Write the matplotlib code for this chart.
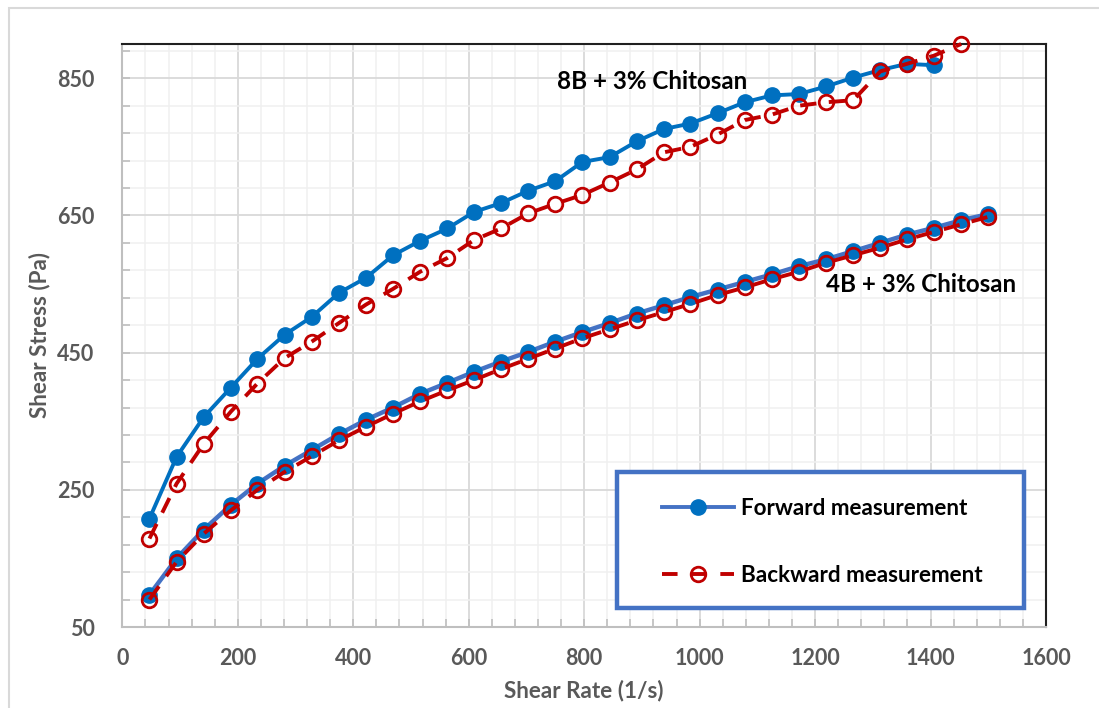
import matplotlib
matplotlib.use("Agg")
import matplotlib.pyplot as plt
from matplotlib.lines import Line2D
from matplotlib.patches import Rectangle
from matplotlib.ticker import MultipleLocator

plt.rcParams['font.family'] = ['Lato', 'DejaVu Sans']
plt.rcParams['font.weight'] = 'bold'

# ---------------- data ----------------
shear_rate = [47, 94, 141, 188, 234, 281, 328, 375, 422, 469, 516, 563, 609, 656, 703, 750,
              797, 844, 891, 938, 984, 1031, 1078, 1125, 1172, 1219, 1266, 1313, 1359, 1406,
              1453, 1500]

stress_8b_fwd = [208, 298, 356, 399, 441, 476, 502, 537, 559, 592, 613, 631, 655, 668, 686, 700,
                 728, 735, 758, 776, 784, 799, 815, 825, 827, 838, 851, 862, 871, 869]
stress_8b_bwd = [179, 259, 317, 364, 405, 442, 466, 493, 520, 543, 568, 588, 614, 631, 653, 667,
                 680, 698, 717, 742, 750, 768, 789, 797, 810, 815, 818, 860, 871, 883, 900]
stress_4b_fwd = [97, 150, 192, 228, 259, 285, 308, 331, 352, 370, 390, 406, 422, 437, 451, 466,
                 480, 493, 507, 519, 531, 542, 553, 564, 576, 586, 598, 610, 622, 632, 643, 652]
stress_4b_bwd = [90, 145, 186, 220, 250, 276, 299, 322, 342, 361, 379, 395, 410, 426, 441, 456,
                 471, 484, 497, 509, 521, 534, 545, 557, 568, 581, 592, 603, 615, 626, 637, 648]

BLUE = "#0070C0"
BLUE_LINE = "#4472C4"
RED = "#C00000"
GREY = "#595959"

fig = plt.figure(figsize=(10.99, 7.08), dpi=100)
ax = fig.add_axes([0.1113, 0.1144, 0.8405, 0.8235])

# chart area border (Excel style)
fig.patches.append(Rectangle((9 / 1099, -0.05), 1.1, 1 - 8 / 708 + 0.05, transform=fig.transFigure,
                             fill=False, edgecolor="#D9D9D9", linewidth=1.5))

# ---------------- series ----------------
ax.plot(shear_rate[:len(stress_8b_fwd)], stress_8b_fwd, color=BLUE, lw=2.8, marker='o',
        markersize=11, markerfacecolor=BLUE, markeredgecolor=BLUE, clip_on=False, zorder=3)
ax.plot(shear_rate[:len(stress_8b_bwd)], stress_8b_bwd, color=RED, lw=2.8, dashes=(4.2, 3.2), marker='o',
        markersize=10.5, markerfacecolor='none', markeredgecolor=RED, markeredgewidth=2,
        clip_on=False, zorder=4)
ax.plot(shear_rate, stress_4b_fwd, color=BLUE_LINE, lw=3.2, marker='o',
        markersize=11, markerfacecolor=BLUE, markeredgecolor=BLUE, clip_on=False, zorder=3)
ax.plot(shear_rate, stress_4b_bwd, color=RED, lw=2.8, dashes=(4.2, 3.2), marker='o',
        markersize=10.5, markerfacecolor='none', markeredgecolor=RED, markeredgewidth=2,
        clip_on=False, zorder=4)

# ---------------- axes ----------------
ax.set_xlim(0, 1600)
ax.set_ylim(50, 900)
ax.xaxis.set_major_locator(MultipleLocator(200))
ax.xaxis.set_minor_locator(MultipleLocator(40))
ax.set_yticks([50, 250, 450, 650, 850])
ax.set_yticks(list(range(50, 900, 40)), minor=True)

ax.grid(which='major', color="#D9D9D9", lw=1.3)
ax.grid(which='minor', color="#F0F0F0", lw=1.1)
ax.set_axisbelow(True)

ax.tick_params(which='both', direction='in', color="#BFBFBF", width=1.2, length=6)
ax.tick_params(which='major', labelsize=15.5, labelcolor=GREY)
ax.tick_params(axis='x', which='major', pad=15)
ax.tick_params(axis='y', which='major', pad=20)
ax.tick_params(axis='x', which='both', top=False)
ax.tick_params(axis='y', which='both', right=False)

for side in ('left', 'bottom'):
    ax.spines[side].set_color("#BFBFBF")
    ax.spines[side].set_linewidth(1.5)
for side in ('top', 'right'):
    ax.spines[side].set_color("#202020")
    ax.spines[side].set_linewidth(1.5)

ax.set_xlabel("Shear Rate (1/s)", fontsize=16.2, color=GREY, fontweight='bold', labelpad=8)
ax.set_ylabel("Shear Stress (Pa)", fontsize=16.2, color=GREY, fontweight='bold', labelpad=5)

# ---------------- labels on the curves ----------------
ax.text(753, 846, "8B + 3% Chitosan", fontsize=17.4, fontweight='bold', color='black', va='center')
ax.text(1219, 549, "4B + 3% Chitosan", fontsize=17.4, fontweight='bold', color='black', va='center')

# ---------------- legend ----------------
ax.add_patch(Rectangle((0.5356, 0.0326), 0.4405, 0.2334, transform=ax.transAxes, facecolor='white',
                       edgecolor=BLUE_LINE, linewidth=3.2, zorder=5, clip_on=False))
handles = [
    Line2D([], [], color=BLUE_LINE, lw=2.8, marker='o', markersize=11,
           markerfacecolor=BLUE, markeredgecolor=BLUE),
    Line2D([], [], color=RED, lw=2.8, dashes=(4, 3.5), marker='o', markersize=10.5,
           markerfacecolor='none', markeredgecolor=RED, markeredgewidth=2),
]
leg = ax.legend(handles, ["Forward measurement", "Backward measurement"], loc='center left',
                bbox_to_anchor=(0.584, 0.146), frameon=False, fontsize=16.2, borderpad=0,
                borderaxespad=0, handlelength=3.2, handletextpad=0.3, labelspacing=2.05)
leg.set_zorder(6)
for t in leg.get_texts():
    t.set_fontweight('bold')

fig.savefig("out.png", dpi=100)
